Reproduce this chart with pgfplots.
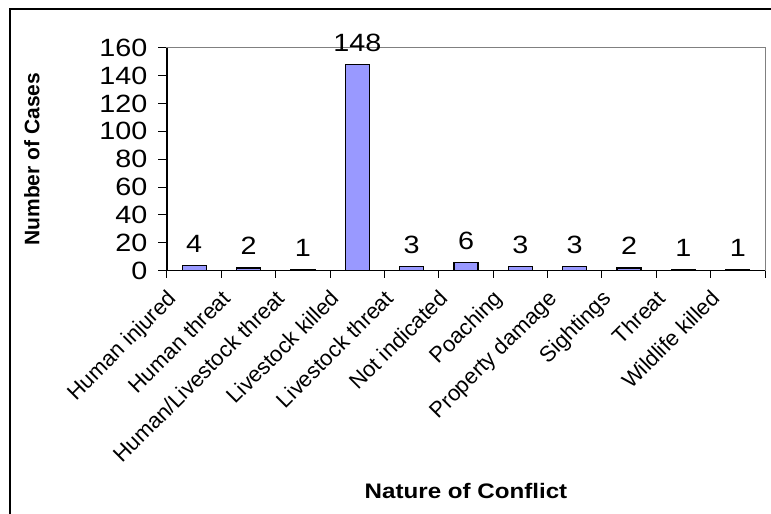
\documentclass[border=0pt]{standalone}
\usepackage{pgfplots}
\pgfplotsset{compat=1.18}
\usepackage{fontspec}
\setmainfont{Liberation Sans}
\newfontfamily\wide[FakeStretch=1.15]{Liberation Sans}
\definecolor{barblue}{HTML}{9999FF}
\begin{document}
\begin{tikzpicture}
\useasboundingbox (0pt,0pt) rectangle (771pt,514pt);
\draw[line width=2pt] (10pt,-3pt) -- (10pt,505pt) -- (774pt,505pt);
\begin{axis}[
  at={(167pt,243.3pt)}, anchor=south west,
  scale only axis, width=598pt, height=223pt,
  xmin=-0.5, xmax=10.5, ymin=0, ymax=160,
  ytick={0,20,...,160},
  xtick={0,...,10},
  xticklabels={Human injured,Human threat,Human/Livestock threat,Livestock  killed,Livestock threat,Not indicated,Poaching,Property damage,Sightings,Threat,Wildlife killed},
  minor xtick={-0.5,0.5,...,10.5},
  major x tick style={draw=none},
  minor x tick style={black, line width=1pt},
  minor tick length=7pt,
  major tick length=9pt,
  y tick style={black, line width=1pt},
  tick align=outside,
  tick pos=left,
  axis line style={draw=gray, line width=1pt},
  /pgf/number format/assume math mode=true,
  yticklabel style={font=\wide\fontsize{25}{25}\selectfont, xshift=-7pt},
  xticklabel style={font=\fontsize{22}{22}\selectfont, xshift=-28pt, yshift=-6pt, rotate=45, anchor=north east, inner sep=2pt},
  ylabel={\textbf{Number of Cases}},
  ylabel style={font=\fontsize{21}{21}\selectfont, at={(axis description cs:-0.226,0.5)}, anchor=center},
  xlabel={\textbf{Nature of Conflict}},
  xlabel style={font=\wide\fontsize{21}{21}\selectfont, at={(axis description cs:0.5,-0.988)}, anchor=center},
  ybar, bar width=24pt,
  clip=false,
  nodes near coords,
  nodes near coords style={font=\wide\fontsize{25}{25}\selectfont, yshift=9pt, /pgf/number format/assume math mode=true},
]
\addplot[fill=barblue, draw=black, line width=1.2pt] coordinates {
(0,4) (1,2) (2,1) (3,148) (4,3) (5,6) (6,3) (7,3) (8,2) (9,1) (10,1)};
\draw[black, line width=1.2pt] (rel axis cs:0,1) -- (rel axis cs:0,0) -- (rel axis cs:1,0);
\end{axis}
\end{tikzpicture}
\end{document}
